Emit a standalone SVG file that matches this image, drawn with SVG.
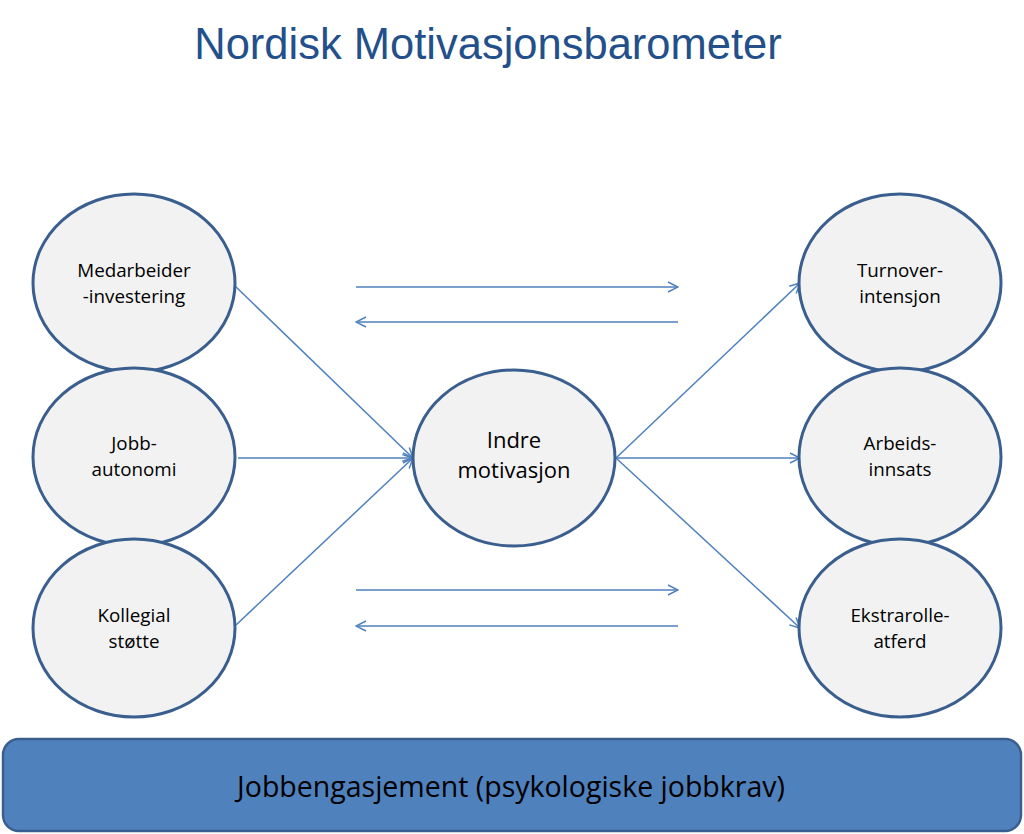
<svg xmlns="http://www.w3.org/2000/svg" width="1024" height="834" viewBox="0 0 1024 834">
<style>
.node{fill:#F2F2F2;stroke:#3A5F8F;stroke-width:3}
.lbl{font-family:"Open Sans","Noto Sans",sans-serif;font-size:18.8px;fill:#000;text-anchor:middle}
.big{font-size:22px}
.conn line{stroke:#4F81BD;stroke-width:1.5;fill:none;marker-end:url(#ah)}
</style>
<defs>
<marker id="ah" viewBox="0 0 12 12" refX="11" refY="6" markerWidth="12" markerHeight="12" markerUnits="userSpaceOnUse" orient="auto">
<path d="M1,1 L11,6 L1,11" fill="none" stroke="#4F81BD" stroke-width="1.5"/>
</marker>
</defs>
<rect width="1024" height="834" fill="#fff"/>
<text x="488" y="59" font-family="'Liberation Sans',Arial,sans-serif" font-size="43.5" fill="#23508A" text-anchor="middle">Nordisk Motivasjonsbarometer</text>
<g class="conn" id="connectors">
<line x1="235" y1="286" x2="413" y2="458"/>
<line x1="238" y1="458" x2="413" y2="458"/>
<line x1="236" y1="625" x2="413" y2="458"/>
<line x1="616" y1="458" x2="800" y2="283"/>
<line x1="616" y1="458" x2="800" y2="458"/>
<line x1="616" y1="458" x2="800" y2="628"/>
<line x1="356" y1="287" x2="678" y2="287"/>
<line x1="678" y1="322" x2="356" y2="322"/>
<line x1="356" y1="590" x2="678" y2="590"/>
<line x1="678" y1="626" x2="356" y2="626"/>
</g>
<g id="medarbeider"><ellipse class="node" cx="134" cy="283" rx="101" ry="89"/><text class="lbl" x="134" y="277">Medarbeider</text><text class="lbl" x="134" y="303">-investering</text></g>
<g id="jobbautonomi"><ellipse class="node" cx="134" cy="457" rx="101" ry="89"/><text class="lbl" x="134" y="450">Jobb-</text><text class="lbl" x="134" y="476">autonomi</text></g>
<g id="kollegial"><ellipse class="node" cx="134" cy="628" rx="101" ry="89"/><text class="lbl" x="134" y="622">Kollegial</text><text class="lbl" x="134" y="648">støtte</text></g>
<g id="indre"><ellipse class="node" cx="514" cy="458" rx="101" ry="88"/><text class="lbl big" x="514" y="448">Indre</text><text class="lbl big" x="514" y="478">motivasjon</text></g>
<g id="turnover"><ellipse class="node" cx="900" cy="283" rx="101" ry="89"/><text class="lbl" x="900" y="277">Turnover-</text><text class="lbl" x="900" y="303">intensjon</text></g>
<g id="arbeidsinnsats"><ellipse class="node" cx="900" cy="457" rx="101" ry="89"/><text class="lbl" x="900" y="450">Arbeids-</text><text class="lbl" x="900" y="476">innsats</text></g>
<g id="ekstrarolle"><ellipse class="node" cx="900" cy="628" rx="101" ry="89"/><text class="lbl" x="900" y="622">Ekstrarolle-</text><text class="lbl" x="900" y="648">atferd</text></g>
<g id="jobbengasjement"><rect x="3" y="739" width="1018" height="92" rx="16" fill="#4F81BD" stroke="#3A5F8F" stroke-width="2.5"/><text class="lbl" x="511" y="797" style="font-size:28.5px">Jobbengasjement (psykologiske jobbkrav)</text></g>
</svg>
